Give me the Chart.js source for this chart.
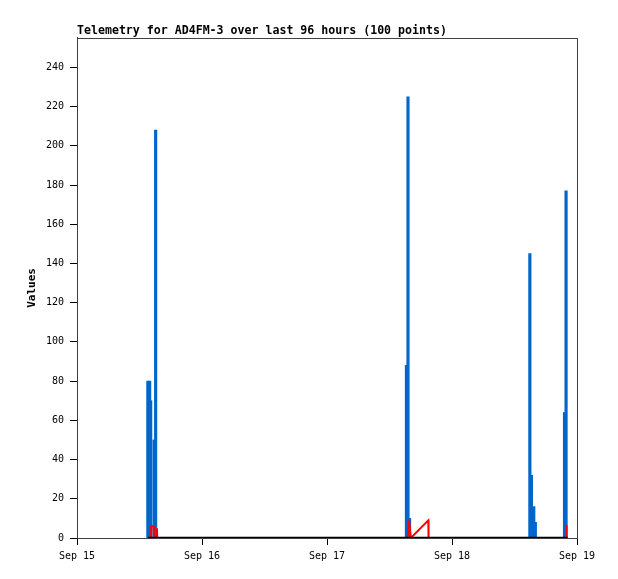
<!DOCTYPE html>
<html>
<head>
<meta charset="utf-8">
<script src="https://cdn.jsdelivr.net/npm/chart.js@4"></script>
<style>
  html, body { margin: 0; padding: 0; background: #fff; }
  #wrap { width: 618px; height: 579px; }
</style>
</head>
<body>
<div id="wrap"><canvas id="chart"></canvas></div>
<script>
// hours since Sep 15 00:00
const dayTicks = [0, 24, 48, 72, 96];
const dayLabels = ["Sep 15", "Sep 16", "Sep 17", "Sep 18", "Sep 19"];

// blue impulses
const pulseHours = [13.6, 13.95, 14.15, 14.8, 14.95, 15.1, 63.25, 63.55, 63.85, 86.95, 87.25, 87.7, 88.0, 93.6, 93.9];
const pulseValues = [80, 80, 70, 50, 30, 208, 88, 225, 10, 145, 32, 16, 8, 64, 177];

// red line
const lineHours = [13.6, 14.2, 14.25, 14.7, 14.75, 15.3, 15.35, 15.4, 63.5, 63.75, 64.1, 67.45, 67.5, 93.95, 94.0, 94.2];
const lineValues = [0, 0, 6, 6, 0, 0, 5, 0, 0, 9, 0, 9, 0, 0, 6, 6];

// zero baseline
const baseHours = [13.6, 94.2];
const baseValues = [0, 0];

const mono = "'DejaVu Sans Mono', 'Liberation Mono', monospace";

function toPoints(xs, ys) {
  return xs.map((x, i) => ({ x, y: ys[i] }));
}

const frame = {
  id: "frame",
  afterDraw(chart) {
    const a = chart.chartArea;
    const ctx = chart.ctx;
    ctx.save();
    ctx.strokeStyle = "#404040";
    ctx.lineWidth = 1;
    ctx.strokeRect(Math.round(a.left) + 0.5, Math.round(a.top) + 0.5, Math.round(a.right - a.left), Math.round(a.bottom - a.top));
    ctx.restore();
  }
};

new Chart(document.getElementById("chart"), {
  type: "bar",
  data: {
    datasets: [
      {
        type: "line",
        data: toPoints(baseHours, baseValues),
        borderColor: "#000000",
        borderWidth: 2.5,
        pointRadius: 0,
        order: 0
      },
      {
        type: "line",
        data: toPoints(lineHours, lineValues),
        borderColor: "#ff0000",
        borderWidth: 2,
        pointRadius: 0,
        tension: 0,
        order: 1
      },
      {
        type: "bar",
        data: toPoints(pulseHours, pulseValues),
        backgroundColor: "#0066cc",
        barThickness: 2.5,
        grouped: false,
        order: 2
      }
    ]
  },
  options: {
    responsive: true,
    maintainAspectRatio: false,
    animation: false,
    layout: { padding: { left: 26, right: 41, top: 0, bottom: 0 } },
    plugins: {
      legend: { display: false },
      tooltip: { enabled: false },
      title: {
        display: true,
        text: "Telemetry for AD4FM-3 over last 96 hours (100 points)",
        align: "start",
        fullSize: false,
        color: "#000",
        font: { family: mono, size: 11.6, weight: "bold" },
        padding: { top: 24, bottom: 0 }
      }
    },
    scales: {
      x: {
        type: "linear",
        min: 0,
        max: 96,
        offset: false,
        afterBuildTicks: (scale) => { scale.ticks = dayTicks.map((v) => ({ value: v })); },
        ticks: {
          color: "#000",
          font: { family: mono, size: 10 },
          maxRotation: 0,
          autoSkip: false,
          padding: 5,
          callback: (v) => dayLabels[dayTicks.indexOf(v)] || ""
        },
        grid: { offset: false, drawOnChartArea: false, drawTicks: true, tickLength: 7, color: "#000" },
        border: { display: true, color: "#404040" },
        afterFit: (scale) => { scale.height = 41; }
      },
      y: {
        min: 0,
        max: 255,
        ticks: {
          stepSize: 20,
          includeBounds: false,
          color: "#000",
          font: { family: mono, size: 10 },
          padding: 6
        },
        grid: { drawOnChartArea: false, drawTicks: true, tickLength: 7, color: "#000" },
        border: { display: true, color: "#404040" },
        title: {
          display: true,
          text: "Values",
          color: "#000",
          font: { family: mono, size: 11, weight: "bold" },
          padding: { top: 0, bottom: 0 }
        },
        afterFit: (scale) => { scale.width = 51; }
      }
    }
  },
  plugins: [frame]
});
</script>
</body>
</html>
